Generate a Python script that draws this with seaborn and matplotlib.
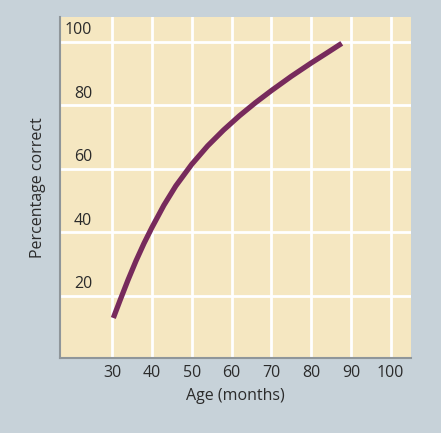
import matplotlib
matplotlib.use("Agg")
import matplotlib.pyplot as plt
import seaborn as sns
import pandas as pd

# Data
age_months = [30.3, 32, 34, 36, 38, 40, 43, 46, 50, 54, 58, 62, 66, 70, 75, 80, 84, 87.7]
pct_correct = [13.0, 18.6, 25.0, 31.0, 36.5, 41.5, 48.5, 54.6, 61.4, 67.2, 72.2,
               76.7, 80.8, 84.6, 89.1, 93.3, 96.5, 99.5]
x_ticks = [30, 40, 50, 60, 70, 80, 90, 100]
y_ticks = [20, 40, 60, 80, 100]

fig_bg = "#c7d2d9"
ax_bg = "#f5e7c1"
txt = "#2b2b2b"

sns.set_style("whitegrid", {
    "axes.facecolor": ax_bg,
    "figure.facecolor": fig_bg,
    "grid.color": "white",
    "axes.edgecolor": "#8f969a",
})
plt.rcParams["font.family"] = ["Open Sans", "DejaVu Sans"]

fig = plt.figure(figsize=(4.41, 4.33), dpi=100)
ax = fig.add_axes([60/441, 75/433, 351/441, 341/433])

df = pd.DataFrame({"Age (months)": age_months, "Percentage correct": pct_correct})
sns.lineplot(data=df, x="Age (months)", y="Percentage correct", ax=ax,
             color="#772a5c", linewidth=3.8, solid_capstyle="butt",
             solid_joinstyle="round")

ax.set_xlim(16.9, 105.1)
ax.set_ylim(0.4, 107.8)
ax.set_xticks(x_ticks)
ax.set_xticklabels([str(t) for t in x_ticks], fontsize=11.5, color=txt)
ax.set_yticks(y_ticks)
ax.set_yticklabels([])
ax.tick_params(axis="both", length=0)
ax.tick_params(axis="x", pad=5)
ax.grid(True, color="white", linewidth=2.0)

for v in y_ticks:
    ax.text(25.0, v + 3.6, str(v), ha="right", va="center", fontsize=11.5, color=txt)

for s in ["top", "right"]:
    ax.spines[s].set_visible(False)
for s in ["left", "bottom"]:
    ax.spines[s].set_color("#8f969a")
    ax.spines[s].set_linewidth(1.5)

ax.set_xlabel("Age (months)", fontsize=11.5, color=txt, labelpad=5)
ax.set_ylabel("Percentage correct", fontsize=11.5, color=txt)
ax.yaxis.set_label_coords(-0.04, 0.5)

fig.savefig("out.png", dpi=100, facecolor=fig_bg)
